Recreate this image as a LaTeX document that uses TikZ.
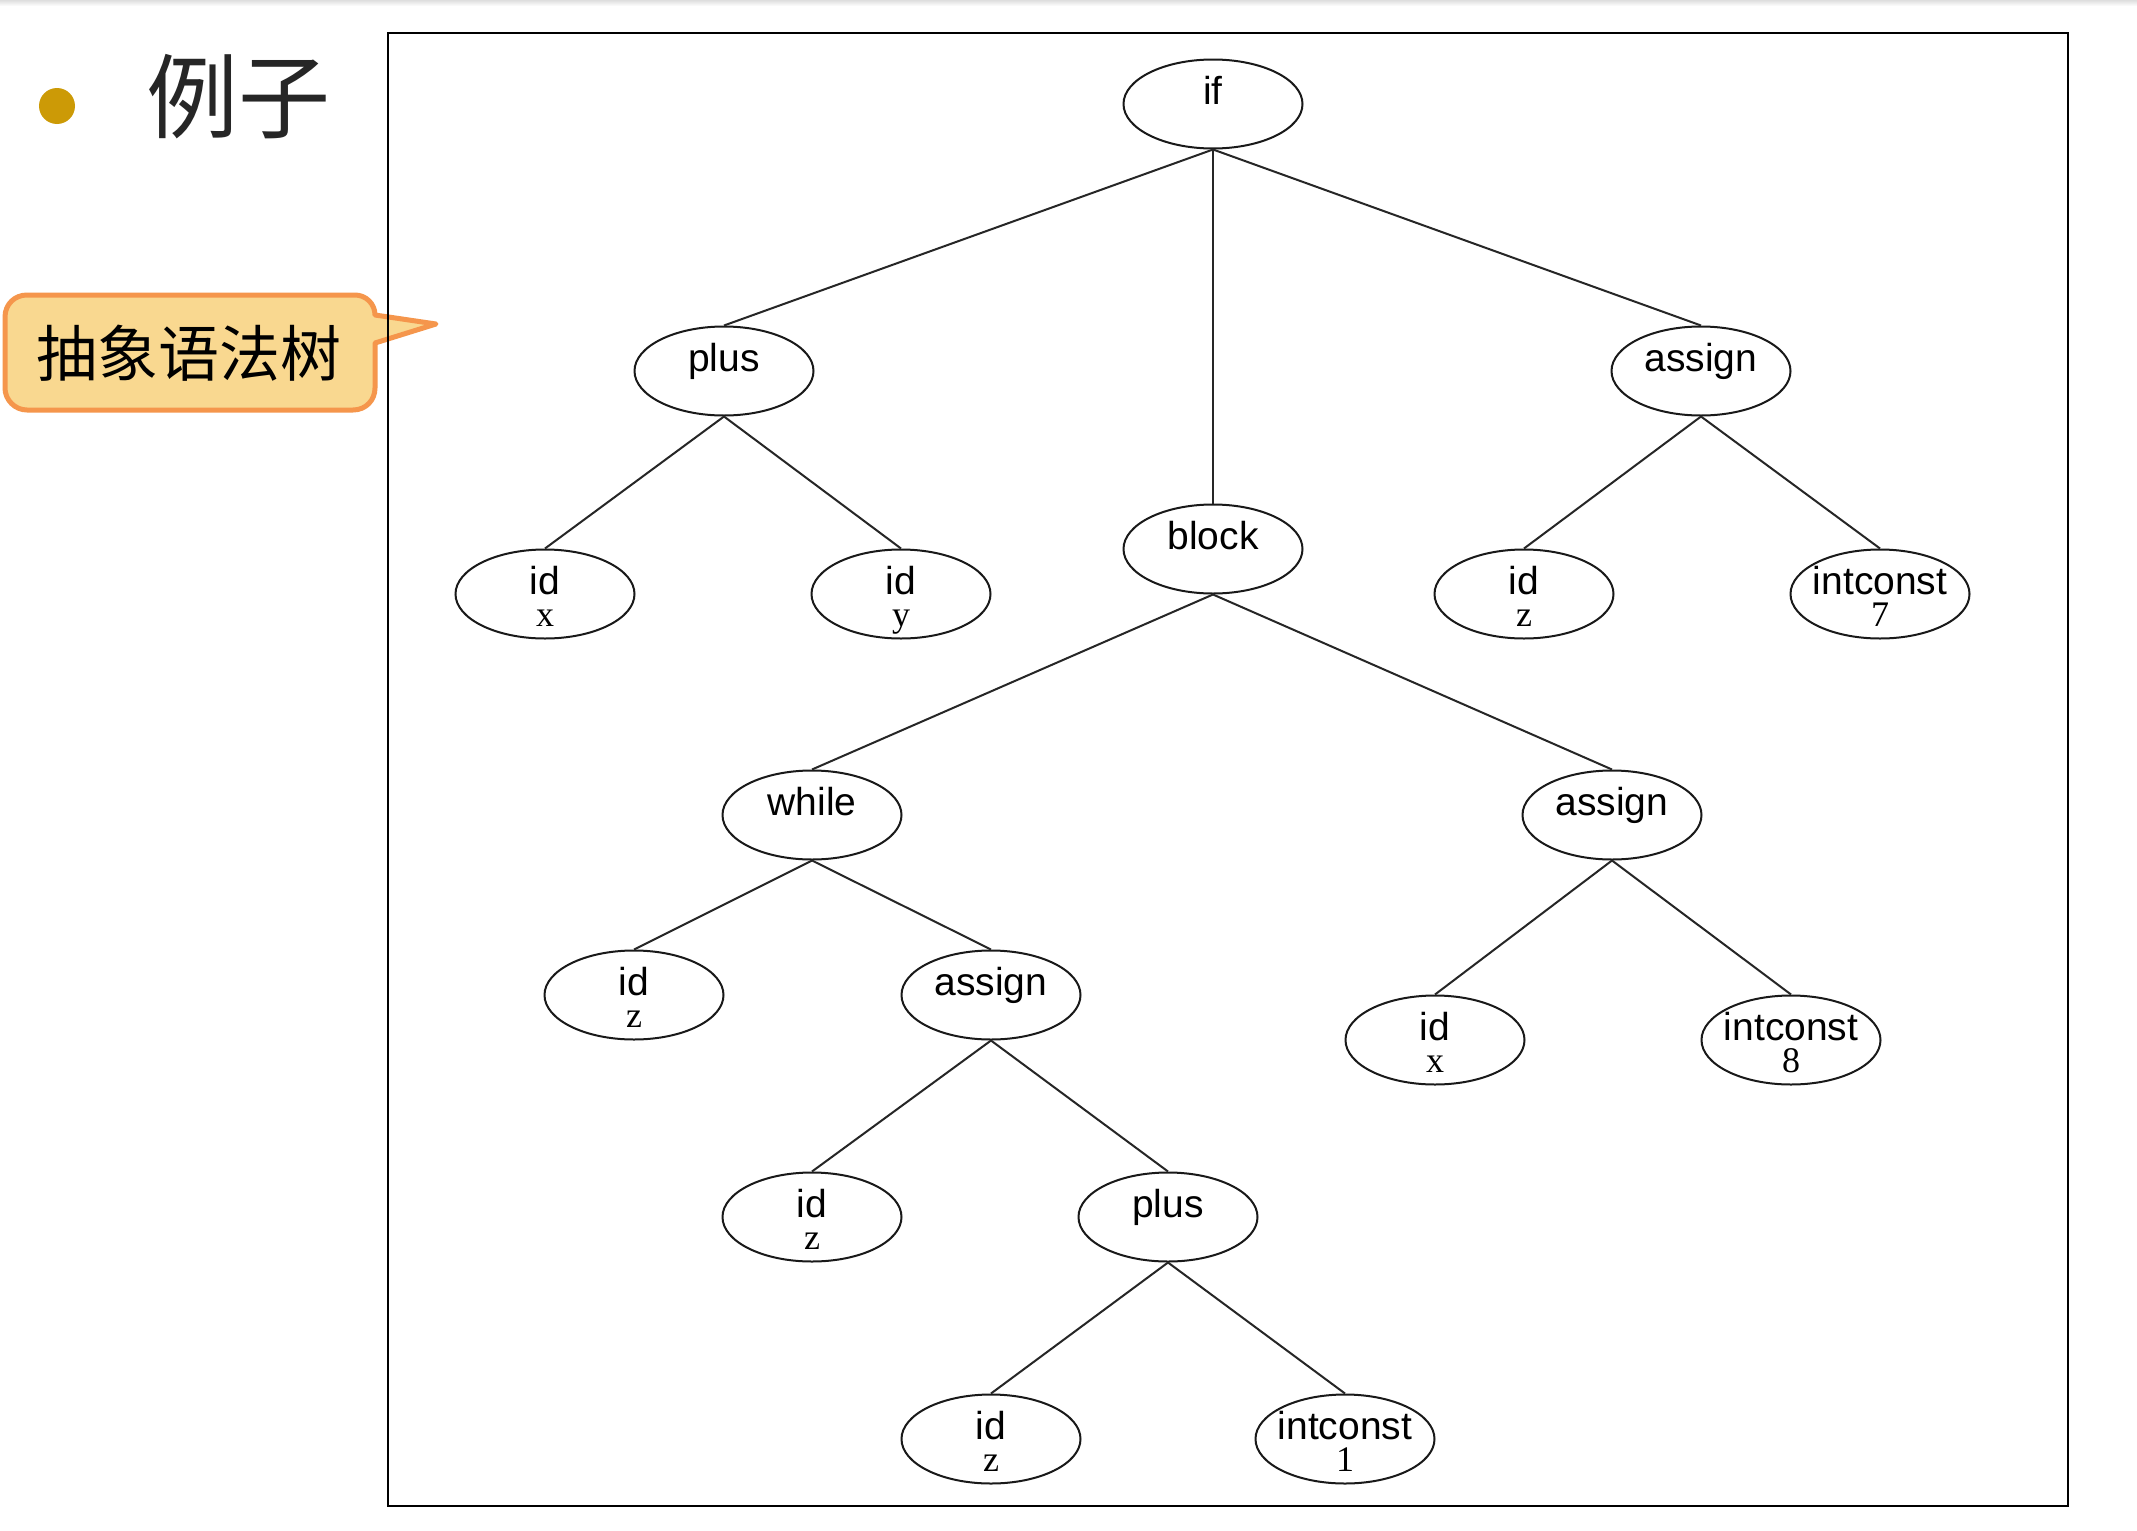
\documentclass[tikz,border=0pt]{standalone}
\usepackage{fontspec}
\setmainfont{Liberation Sans}
\newfontfamily\cjksans{Noto Sans CJK SC}
\newfontfamily\serifvalue{Liberation Serif}
\usetikzlibrary{shapes.geometric}
\definecolor{bulletgold}{HTML}{CC9A06}
\definecolor{titlegray}{HTML}{262626}
\definecolor{calloutfill}{HTML}{F9D890}
\definecolor{calloutedge}{HTML}{F5964C}

% inner AST node: name, x, y, label
\newcommand\astinner[4]{%
  \node[tnode] (#1) at (#2,#3) {};
  \node[lineone] (#1-a) at (#1.center) {#4};
}
% AST leaf with a value: name, x, y, label, value
% (two centred rows, baselines 32pt apart, base anchor on the first row)
\newcommand\astleaf[5]{%
  \node[tnode] (#1) at (#2,#3) {};
  \node[lineone] (#1-a) at (#1.center) {\vtop{\offinterlineskip
    \halign{\hfil##\hfil\cr
      #4\cr
      \vrule width0pt height32pt depth0pt\serifvalue\fontsize{36}{38}\selectfont #5\cr}}};
}

\begin{document}
\begin{tikzpicture}[x=1pt,y=-1pt,
  tnode/.style={ellipse,draw=black!90,line width=2pt,minimum width=179pt,
                minimum height=89pt,inner sep=0pt},
  lineone/.style={anchor=base,inner sep=0pt,font=\fontsize{39}{41}\selectfont},
  edge/.style={draw=black!85,line width=2pt},
  callout/.style={fill=calloutfill,draw=calloutedge,line width=5pt,line join=round},
]
\useasboundingbox (0,0) rectangle (2137,1531);
\fill[white] (0,0) rectangle (2137,1531);
\shade[top color=black!13,bottom color=white] (0,0) rectangle (2137,6);

% heading with bullet
\fill[bulletgold] (57,106) circle[radius=18];
\node[anchor=base west,inner sep=0pt,text=titlegray,
      font=\cjksans\fontsize{92}{96}\selectfont] (title) at (146,131) {例子};

% speech bubble
\path[callout] (27,295) -- (355,295)
  .. controls (366,295) and (375,304) .. (375,315)
  -- (436,324) -- (375,343) -- (375,388)
  .. controls (375,400) and (366,410) .. (353,410)
  -- (27,410) .. controls (15,410) and (5,400) .. (5,388)
  -- (5,317) .. controls (5,304) and (15,295) .. (27,295) -- cycle;
\node[anchor=base,inner sep=0pt,font=\cjksans\fontsize{61}{64}\selectfont]
  (calloutlabel) at (189,376) {抽象语法树};

% frame around the tree
\draw[black,line width=2.4pt] (388,33) rectangle (2068,1506);

% tree nodes
\astinner{if}{1213}{104}{if}
\astinner{plusA}{724}{371}{plus}
\astinner{assignA}{1701}{371}{assign}
\astinner{block}{1213}{549}{block}
\astleaf{idx}{545}{594}{id}{x}
\astleaf{idy}{901}{594}{id}{y}
\astleaf{idzA}{1524}{594}{id}{z}
\astleaf{intA}{1880}{594}{intconst}{7}
\astinner{while}{812}{815}{while}
\astinner{assignB}{1612}{815}{assign}
\astleaf{idzB}{634}{995}{id}{z}
\astinner{assignC}{991}{995}{assign}
\astleaf{idxB}{1435}{1040}{id}{x}
\astleaf{intB}{1791}{1040}{intconst}{8}
\astleaf{idzC}{812}{1217}{id}{z}
\astinner{plusB}{1168}{1217}{plus}
\astleaf{idzD}{991}{1439}{id}{z}
\astleaf{intC}{1345}{1439}{intconst}{1}

% tree edges
\foreach \p/\c in {if/plusA,if/block,if/assignA,plusA/idx,plusA/idy,
  assignA/idzA,assignA/intA,block/while,block/assignB,while/idzB,
  while/assignC,assignB/idxB,assignB/intB,assignC/idzC,assignC/plusB,
  plusB/idzD,plusB/intC}
  \draw[edge] (\p.south) -- (\c.north);
\end{tikzpicture}
\end{document}
